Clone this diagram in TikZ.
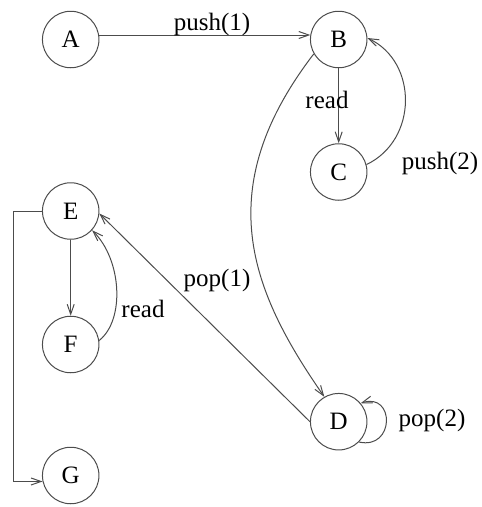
\documentclass[tikz,border=0pt]{standalone}
\usepackage{fontspec}
\setmainfont{Liberation Serif}
\usetikzlibrary{arrows.meta}
\begin{document}
\begin{tikzpicture}[x=1pt,y=-1pt,
  state/.style={circle,draw=black!70,line width=1pt,minimum size=56.5pt,inner sep=0pt,font=\fontsize{25}{30}\selectfont},
  lbl/.style={inner sep=0pt,font=\fontsize{25}{30}\selectfont},
  arr/.style={draw=black!70,line width=1pt,-{Straight Barb[length=10pt,width=7pt,line width=1pt]}}]
\useasboundingbox (0,0) rectangle (482,507);
\node[state] (A) at (70.7,39.5) {A};
\node[state] (B) at (338.7,39.5) {B};
\node[state] (C) at (338.7,172) {C};
\node[state] (E) at (70.7,211) {E};
\node[state] (F) at (70.7,344.5) {F};
\node[state] (D) at (338.7,421.7) {D};
\node[state] (G) at (70.7,475.5) {G};
\coordinate (L1) at (13.3,211);
% edges
\draw[arr] (A.9) -- (B.171);
\draw[arr] (B.south) -- (C.north);
\draw[arr] (C.15) .. controls (418,140) and (418,62) .. (B.3);
\draw[arr] (B.210) .. controls (210,189) and (250,290) .. (D.120);
\draw[arr] (D.180) -- (E.-5);
\draw[arr] (E.south) -- (F.north);
\draw[arr] (F.8) .. controls (125,320) and (122,260) .. (E.-42);
\draw[arr] (E.west) -- (L1) |- (G.192);
\draw[arr] (D.-45) .. controls (395,450) and (395,392) .. (D.40);
% labels
\node[lbl] (l1) at (212,24) {push(1)};
\node[lbl] (l2) at (327,100) {read};
\node[lbl] (l3) at (440,163) {push(2)};
\node[lbl] (l4) at (217,280) {pop(1)};
\node[lbl] (l5) at (143,309) {read};
\node[lbl] (l6) at (432,420) {pop(2)};
\end{tikzpicture}
\end{document}
